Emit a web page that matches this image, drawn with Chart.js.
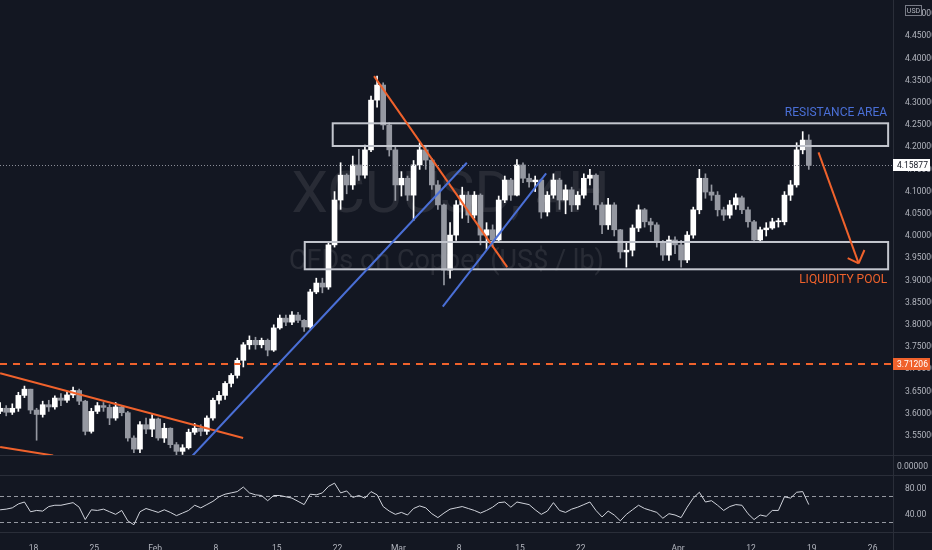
<!DOCTYPE html>
<html>
<head>
<meta charset="utf-8">
<script src="https://cdn.jsdelivr.net/npm/chart.js@4.4.1/dist/chart.umd.min.js"></script>
<style>
  body { margin: 0; background: #131722; }
  #wrap { position: relative; width: 932px; height: 550px; background: #131722; overflow: hidden; }
  canvas { position: absolute; left: 0; }
  #price { top: 0; }
  #rsi { top: 456px; }
</style>
</head>
<body>
<div id="wrap">
  <canvas id="price" width="932" height="456"></canvas>
  <canvas id="rsi" width="932" height="94"></canvas>
</div>
<script>
// XCUUSD 4H, one candle per half trading day (Jan 13 .. Apr 16)
const firstOpen = 3.605;
const closes = [
  3.612, 3.603, 3.612, 3.641, 3.655, 3.608, 3.598, 3.620, 3.615, 3.635,
  3.630, 3.642, 3.652, 3.628, 3.560, 3.605, 3.618, 3.614, 3.590, 3.615,
  3.602, 3.545, 3.520, 3.575, 3.565, 3.588, 3.545, 3.567, 3.530, 3.515,
  3.523, 3.558, 3.567, 3.560, 3.590, 3.630, 3.641, 3.668, 3.686, 3.720,
  3.755, 3.765, 3.755, 3.765, 3.743, 3.793, 3.815, 3.806, 3.822, 3.810,
  3.795, 3.874, 3.894, 3.885, 3.980, 4.081, 4.137, 4.115, 4.160, 4.137,
  4.194, 4.306, 4.340, 4.250, 4.194, 4.115, 4.130, 4.092, 4.160, 4.194,
  4.171, 4.115, 4.070, 3.923, 4.002, 4.070, 4.092, 4.047, 4.092, 4.002,
  4.014, 3.991, 4.081, 4.126, 4.092, 4.160, 4.130, 4.122, 4.126, 4.054,
  4.092, 4.126, 4.081, 4.104, 4.070, 4.092, 4.130, 4.137, 4.070, 4.025,
  4.070, 4.014, 3.964, 3.968, 4.018, 4.059, 4.032, 4.025, 3.986, 3.957,
  3.991, 3.980, 3.946, 4.002, 4.059, 4.130, 4.099, 4.092, 4.059, 4.047,
  4.070, 4.086, 4.059, 4.032, 3.991, 4.014, 4.018, 4.032, 4.032, 4.092,
  4.115, 4.194, 4.216, 4.159
];
const highs = [
  3.625, 3.618, 3.622, 3.648, 3.662, 3.652, 3.612, 3.628, 3.630, 3.640,
  3.645, 3.650, 3.660, 3.655, 3.630, 3.612, 3.625, 3.625, 3.620, 3.625,
  3.618, 3.605, 3.550, 3.582, 3.590, 3.598, 3.590, 3.578, 3.568, 3.535,
  3.530, 3.565, 3.578, 3.575, 3.595, 3.635, 3.650, 3.672, 3.690, 3.725,
  3.760, 3.775, 3.772, 3.770, 3.768, 3.800, 3.822, 3.822, 3.830, 3.828,
  3.812, 3.880, 3.905, 3.905, 3.985, 4.100, 4.165, 4.140, 4.180, 4.195,
  4.205, 4.315, 4.360, 4.345, 4.255, 4.200, 4.145, 4.135, 4.170, 4.210,
  4.200, 4.175, 4.125, 4.072, 4.030, 4.080, 4.110, 4.100, 4.100, 4.095,
  4.030, 4.025, 4.090, 4.135, 4.130, 4.172, 4.165, 4.140, 4.135, 4.128,
  4.100, 4.140, 4.130, 4.115, 4.110, 4.100, 4.140, 4.150, 4.140, 4.075,
  4.085, 4.075, 4.015, 3.985, 4.025, 4.070, 4.062, 4.040, 4.030, 3.990,
  4.000, 3.998, 3.990, 4.010, 4.065, 4.150, 4.140, 4.115, 4.100, 4.065,
  4.080, 4.095, 4.090, 4.065, 4.035, 4.020, 4.030, 4.040, 4.040, 4.100,
  4.125, 4.210, 4.235, 4.228
];
const lows = [
  3.600, 3.595, 3.598, 3.605, 3.636, 3.600, 3.540, 3.592, 3.605, 3.610,
  3.618, 3.625, 3.636, 3.620, 3.552, 3.556, 3.600, 3.605, 3.575, 3.585,
  3.595, 3.538, 3.512, 3.512, 3.555, 3.548, 3.540, 3.535, 3.523, 3.507,
  3.508, 3.520, 3.553, 3.550, 3.553, 3.585, 3.622, 3.632, 3.660, 3.680,
  3.705, 3.745, 3.745, 3.748, 3.730, 3.740, 3.790, 3.798, 3.800, 3.805,
  3.785, 3.792, 3.870, 3.872, 3.880, 3.975, 4.060, 4.095, 4.105, 4.125,
  4.130, 4.190, 4.290, 4.240, 4.180, 4.080, 4.090, 4.080, 4.035, 4.150,
  4.150, 4.105, 4.060, 3.890, 3.905, 3.990, 4.040, 4.030, 4.040, 3.980,
  3.970, 3.975, 3.985, 4.075, 4.080, 4.090, 4.120, 4.110, 4.100, 4.040,
  4.045, 4.085, 4.060, 4.050, 4.055, 4.060, 4.085, 4.115, 4.060, 4.005,
  4.015, 4.000, 3.950, 3.930, 3.955, 4.010, 4.020, 4.010, 3.975, 3.945,
  3.945, 3.960, 3.930, 3.940, 3.995, 4.050, 4.085, 4.080, 4.045, 4.035,
  4.040, 4.060, 4.050, 4.020, 3.985, 3.985, 4.000, 4.015, 4.020, 4.025,
  4.080, 4.110, 4.185, 4.150
];
const rsiValues = [
  48, 49, 51, 57, 60, 45, 47, 46, 53, 55,
  55, 57, 59, 52, 33, 48, 47, 49, 45, 41,
  47, 31, 25, 45, 50, 47, 44, 48, 44, 39,
  43, 47, 55, 51, 56, 61, 68, 72, 74, 76,
  83, 74, 71, 70, 62, 70, 70, 68, 66, 61,
  56, 72, 71, 74, 84, 89, 74, 77, 67, 70,
  66, 76, 71, 53, 46, 41, 44, 40, 50, 54,
  51, 42, 36, 43, 49, 51, 53, 50, 47, 43,
  47, 52, 59, 60, 52, 60, 58, 56, 48, 41,
  46, 59, 47, 44, 49, 52, 56, 60, 47, 37,
  46, 40, 31, 41, 48, 55, 50, 47, 44, 35,
  42, 40, 36, 52, 66, 75, 60, 62, 55, 47,
  53, 56, 55, 42, 33, 40, 38, 47, 47, 68,
  66, 75, 76, 56
];
const dateTicks = [5.5, 15.5, 25.5, 35.5, 45.5, 55.5, 65.5, 75.5, 85.5, 95.5, 111.5, 123.5, 133.5, 143.5];
const dateLabels = ['18', '25', 'Feb', '8', '15', '22', 'Mar', '8', '15', '22', 'Apr', '12', '19', '26'];
const priceTicks = [3.55, 3.60, 3.65, 3.70, 3.75, 3.80, 3.85, 3.90, 3.95, 4.00, 4.05, 4.10, 4.15, 4.20, 4.25, 4.30, 4.35, 4.40, 4.45, 4.50];
const rsiTicks = [40, 80];
const lastPrice = 4.15877;
const levelPrice = 3.71206;

// drawings, in (candle index, price)
const orangeLines = [
  [[0, 3.691], [39.97, 3.545]],
  [[0, 3.525], [8.72, 3.5056]],
  [[61.5, 4.360], [83.4, 3.930]]
];
const blueLines = [
  [[31.6, 3.5045], [76.76, 4.165]],
  [[72.8, 3.841], [89.8, 4.141]]
];
const arrowLine = [[134.6, 4.1885], [141.2, 3.9385]];
const arrowWings = [[139.4, 3.950], [142.15, 3.9685]];
const resistanceBox = { x0: 54.7, x1: 146.05, top: 4.2538, bottom: 4.2027 };
const liquidityBox = { x0: 50.1, x1: 146.05, top: 3.9865, bottom: 3.925 };

const X_MIN = -0.02, X_MAX = 146.85;
const BG = '#131722', TEXT = '#b2b5be', SEP = '#2a2e39';
const ORANGE = '#f0622c', BLUE = '#4a6fd6';
const AXIS_FONT = { size: 8.5 };

const opens = closes.map((c, i) => i ? closes[i - 1] : firstOpen);
const candleColors = closes.map((c, i) => c >= opens[i] ? '#ffffff' : '#9598a1');
const bodies = closes.map((c, i) => ({ x: i, y: [opens[i], c] }));
const wicks = closes.map((c, i) => ({ x: i, y: [Math.min(lows[i], opens[i], c), Math.max(highs[i], opens[i], c)] }));

Chart.defaults.font.family = 'Roboto';
Chart.defaults.color = TEXT;

function segment(ctx, chart, a, b) {
  const x = chart.scales.x, y = chart.scales.y;
  ctx.beginPath();
  ctx.moveTo(x.getPixelForValue(a[0]), y.getPixelForValue(a[1]));
  ctx.lineTo(x.getPixelForValue(b[0]), y.getPixelForValue(b[1]));
  ctx.stroke();
}

function box(ctx, chart, b) {
  const x = chart.scales.x, y = chart.scales.y;
  const x0 = x.getPixelForValue(b.x0), x1 = x.getPixelForValue(b.x1);
  const y0 = y.getPixelForValue(b.top), y1 = y.getPixelForValue(b.bottom);
  ctx.strokeRect(x0, y0, x1 - x0, y1 - y0);
}

function priceLabel(ctx, chart, price, fill, color) {
  const yy = Math.round(chart.scales.y.getPixelForValue(price));
  const left = chart.chartArea.right;
  ctx.fillStyle = fill;
  ctx.fillRect(left, yy - 6, 37, 12);
  ctx.fillStyle = color;
  ctx.font = '8.5px Roboto';
  ctx.textAlign = 'left';
  ctx.textBaseline = 'middle';
  ctx.fillText(price.toFixed(5), left + 4, yy + 0.5);
}

const priceOverlay = {
  id: 'priceOverlay',
  beforeDatasetsDraw(chart) {
    const ctx = chart.ctx, a = chart.chartArea;
    const cx = (a.left + a.right) / 2;
    ctx.save();
    ctx.fillStyle = 'rgba(255,255,255,0.09)';
    ctx.textAlign = 'center';
    ctx.textBaseline = 'middle';
    ctx.font = '58px Roboto';
    ctx.fillText('XCUUSD, 4H', cx + 4, 197);
    ctx.font = '27px Roboto';
    ctx.fillText('CFDs on Copper (US$ / lb)', cx, 262);
    ctx.restore();
  },
  afterDatasetsDraw(chart) {
    const ctx = chart.ctx, a = chart.chartArea;
    const x = chart.scales.x, y = chart.scales.y;
    ctx.save();
    ctx.beginPath();
    ctx.rect(a.left, a.top, a.right - a.left, a.bottom - a.top);
    ctx.clip();

    // last price dotted line
    ctx.strokeStyle = '#8a8d97';
    ctx.lineWidth = 1;
    ctx.setLineDash([1, 2]);
    const ly = Math.round(y.getPixelForValue(lastPrice)) + 0.5;
    ctx.beginPath(); ctx.moveTo(a.left, ly); ctx.lineTo(a.right, ly); ctx.stroke();

    // horizontal level
    ctx.strokeStyle = ORANGE;
    ctx.lineWidth = 2;
    ctx.setLineDash([7, 6]);
    const hy = Math.round(y.getPixelForValue(levelPrice));
    ctx.beginPath(); ctx.moveTo(a.left, hy); ctx.lineTo(a.right, hy); ctx.stroke();
    ctx.setLineDash([]);

    // zones
    ctx.strokeStyle = '#c3c6ce';
    ctx.lineWidth = 2;
    box(ctx, chart, resistanceBox);
    box(ctx, chart, liquidityBox);

    // trend lines
    ctx.lineWidth = 2;
    ctx.strokeStyle = ORANGE;
    orangeLines.forEach(l => segment(ctx, chart, l[0], l[1]));
    ctx.strokeStyle = BLUE;
    blueLines.forEach(l => segment(ctx, chart, l[0], l[1]));

    // arrow
    ctx.strokeStyle = ORANGE;
    segment(ctx, chart, arrowLine[0], arrowLine[1]);
    arrowWings.forEach(w => segment(ctx, chart, arrowLine[1], w));

    // zone titles
    ctx.font = '12px Roboto';
    ctx.textAlign = 'right';
    ctx.textBaseline = 'middle';
    ctx.fillStyle = BLUE;
    ctx.fillText('RESISTANCE AREA', x.getPixelForValue(resistanceBox.x1) - 1, y.getPixelForValue(4.277));
    ctx.fillStyle = ORANGE;
    ctx.fillText('LIQUIDITY POOL', x.getPixelForValue(liquidityBox.x1) - 1, y.getPixelForValue(3.901));
    ctx.restore();
  },
  afterDraw(chart) {
    const ctx = chart.ctx, a = chart.chartArea;
    ctx.save();
    ctx.strokeStyle = SEP;
    ctx.lineWidth = 1;
    ctx.beginPath(); ctx.moveTo(a.right + 0.5, 0); ctx.lineTo(a.right + 0.5, chart.height); ctx.stroke();
    ctx.beginPath(); ctx.moveTo(0, chart.height - 0.5); ctx.lineTo(chart.width, chart.height - 0.5); ctx.stroke();

    priceLabel(ctx, chart, lastPrice, '#ffffff', BG);
    priceLabel(ctx, chart, levelPrice, ORANGE, '#ffffff');

    // currency badge
    ctx.fillStyle = BG;
    ctx.fillRect(905, 5, 17, 11);
    ctx.strokeStyle = '#787b86';
    ctx.strokeRect(905.5, 5.5, 16, 10);
    ctx.fillStyle = TEXT;
    ctx.font = '7px Roboto';
    ctx.textAlign = 'center';
    ctx.textBaseline = 'middle';
    ctx.fillText('USD', 913.5, 11);
    ctx.restore();
  }
};

new Chart(document.getElementById('price'), {
  type: 'bar',
  data: {
    datasets: [
      { data: wicks, backgroundColor: candleColors, barThickness: 1, grouped: false, order: 2 },
      { data: bodies, backgroundColor: candleColors, barThickness: 5, minBarLength: 1, grouped: false, order: 1 }
    ]
  },
  options: {
    responsive: false,
    animation: false,
    events: [],
    layout: { padding: 0 },
    plugins: { legend: { display: false }, tooltip: { enabled: false } },
    scales: {
      x: { type: 'linear', min: X_MIN, max: X_MAX, offset: false, display: false },
      y: {
        position: 'right',
        min: 3.5045,
        max: 4.5315,
        grid: { display: false },
        border: { display: false },
        afterBuildTicks: s => { s.ticks = priceTicks.map(v => ({ value: v })); },
        afterFit: s => { s.width = 39; s.paddingTop = 0; s.paddingBottom = 0; },
        ticks: { padding: 4, font: AXIS_FONT, color: TEXT, callback: v => v.toFixed(5) }
      }
    }
  },
  plugins: [priceOverlay]
});

const rsiOverlay = {
  id: 'rsiOverlay',
  beforeDatasetsDraw(chart) {
    const ctx = chart.ctx, a = chart.chartArea, y = chart.scales.y;
    ctx.save();
    ctx.strokeStyle = '#9598a1';
    ctx.lineWidth = 1;
    ctx.setLineDash([4, 3]);
    [70, 30].forEach(v => {
      const yy = Math.round(y.getPixelForValue(v)) + 0.5;
      ctx.beginPath(); ctx.moveTo(a.left, yy); ctx.lineTo(a.right, yy); ctx.stroke();
    });
    ctx.restore();
  },
  afterDraw(chart) {
    const ctx = chart.ctx, a = chart.chartArea;
    ctx.save();
    ctx.strokeStyle = SEP;
    ctx.lineWidth = 1;
    [a.top - 0.5, a.bottom + 0.5].forEach(yy => {
      ctx.beginPath(); ctx.moveTo(0, yy); ctx.lineTo(chart.width, yy); ctx.stroke();
    });
    ctx.beginPath(); ctx.moveTo(a.right + 0.5, 0); ctx.lineTo(a.right + 0.5, chart.height); ctx.stroke();
    // empty indicator pane scale
    ctx.fillStyle = TEXT;
    ctx.font = '8.5px Roboto';
    ctx.textAlign = 'left';
    ctx.textBaseline = 'middle';
    ctx.fillText((0).toFixed(5), a.right + 4, a.top / 2 + 1);
    ctx.restore();
  }
};

new Chart(document.getElementById('rsi'), {
  type: 'line',
  data: {
    datasets: [{
      data: rsiValues.map((v, i) => ({ x: i, y: v })),
      borderColor: '#d1d4dc',
      borderWidth: 1,
      pointRadius: 0,
      tension: 0
    }]
  },
  options: {
    responsive: false,
    animation: false,
    events: [],
    layout: { padding: { top: 20 } },
    plugins: { legend: { display: false }, tooltip: { enabled: false } },
    scales: {
      x: {
        type: 'linear', min: X_MIN, max: X_MAX, offset: false,
        grid: { display: false },
        border: { display: false },
        afterBuildTicks: s => { s.ticks = dateTicks.map(v => ({ value: v })); },
        afterFit: s => { s.height = 18; s.paddingLeft = 0; s.paddingRight = 0; },
        ticks: {
          autoSkip: false, maxRotation: 0, padding: 4, font: AXIS_FONT, color: TEXT,
          callback: v => dateLabels[dateTicks.indexOf(v)]
        }
      },
      y: {
        position: 'right',
        min: 13.85,
        max: 100,
        grid: { display: false },
        border: { display: false },
        afterBuildTicks: s => { s.ticks = rsiTicks.map(v => ({ value: v })); },
        afterFit: s => { s.width = 39; s.paddingTop = 0; s.paddingBottom = 0; },
        ticks: { padding: 4, font: AXIS_FONT, color: TEXT, callback: v => v.toFixed(2) }
      }
    }
  },
  plugins: [rsiOverlay]
});
</script>
</body>
</html>
